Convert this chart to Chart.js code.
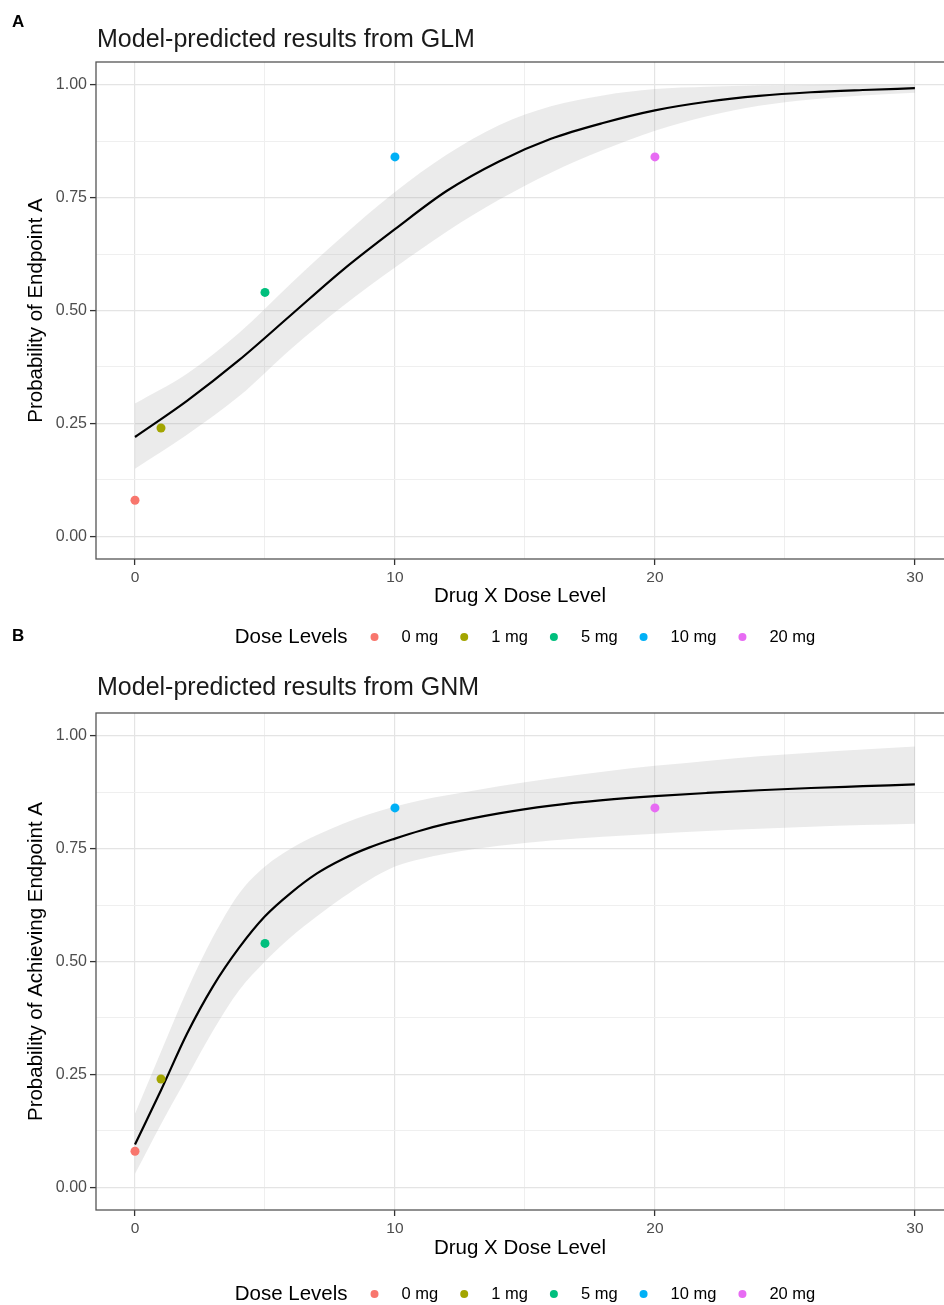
<!DOCTYPE html>
<html>
<head>
<meta charset="utf-8">
<title>Model-predicted results</title>
<script src="https://cdn.jsdelivr.net/npm/chart.js@4.4.1/dist/chart.umd.min.js"></script>
<style>
    body { margin: 0; background: #fff; }
    #wrap { position: relative; width: 944px; height: 1305px; overflow: hidden; }
    canvas { position: absolute; left: 0; }
    #chartA { top: 0; }
    #chartB { top: 625px; }
</style>
</head>
<body>
<div id="wrap">
    <canvas id="chartA" width="944" height="655"></canvas>
    <canvas id="chartB" width="944" height="680"></canvas>
</div>
<script>
// Observed dose groups (same in both panels)
const doseLabels = ['0 mg', '1 mg', '5 mg', '10 mg', '20 mg'];
const doseLevels = [0, 1, 5, 10, 20];
const observedProb = [0.08, 0.24, 0.54, 0.84, 0.84];
const doseColors = ['#F8766D', '#A3A500', '#00BF7D', '#00B0F6', '#E76BF3'];

// Panel A - GLM fit and ribbon
const glmDose = [0, 2, 4, 6, 8, 10, 12, 14, 16, 18, 20, 22, 24, 26, 28, 30];
const glmFit = [0.22, 0.30, 0.39, 0.49, 0.59, 0.68, 0.765, 0.83, 0.88, 0.915, 0.943, 0.962, 0.975, 0.983, 0.988, 0.992];
const glmUpper = [0.294, 0.36, 0.45, 0.56, 0.665, 0.762, 0.845, 0.91, 0.952, 0.976, 0.99, 0.995, 0.998, 0.999, 1.0, 1.0];
const glmLower = [0.15, 0.225, 0.31, 0.415, 0.51, 0.595, 0.675, 0.745, 0.805, 0.855, 0.898, 0.93, 0.953, 0.967, 0.976, 0.982];

// Panel B - GNM fit and ribbon
const gnmDose = [0, 1, 2, 3, 4, 5, 6, 7, 8, 9, 10, 11, 12, 14, 16, 18, 20, 22, 24, 26, 28, 30];
const gnmFit = [0.095, 0.215, 0.34, 0.445, 0.53, 0.60, 0.652, 0.695, 0.727, 0.752, 0.772, 0.79, 0.805, 0.828, 0.845, 0.857, 0.866, 0.873, 0.879, 0.884, 0.888, 0.892];
const gnmUpper = [0.163, 0.30, 0.436, 0.554, 0.65, 0.71, 0.75, 0.78, 0.805, 0.826, 0.843, 0.857, 0.868, 0.888, 0.905, 0.92, 0.933, 0.944, 0.954, 0.962, 0.969, 0.976];
const gnmLower = [0.03, 0.14, 0.244, 0.347, 0.436, 0.50, 0.554, 0.60, 0.642, 0.68, 0.71, 0.727, 0.739, 0.756, 0.768, 0.776, 0.783, 0.789, 0.794, 0.798, 0.802, 0.805];

// Axis ticks (major get labels, the rest are minor grid lines)
const xTicks = [0, 5, 10, 15, 20, 25, 30];
const yTicks = [0, 0.125, 0.25, 0.375, 0.5, 0.625, 0.75, 0.875, 1];

const FONT = '"Liberation Sans", Arial, Helvetica, sans-serif';

function isMajorX(v) { return v % 10 === 0; }
function isMajorY(v) { return Math.abs(v * 4 - Math.round(v * 4)) < 1e-6; }

function toXY(xs, ys) {
    return xs.map((x, i) => ({ x: x, y: ys[i] }));
}

// Draws panel letter, title, panel border and the dose legend
const panelDecor = {
    id: 'panelDecor',
    afterDraw(chart, args, opts) {
        const ctx = chart.ctx;
        const area = chart.chartArea;
        ctx.save();

        ctx.strokeStyle = '#555555';
        ctx.lineWidth = 1.3;
        ctx.strokeRect(area.left, area.top, area.right - area.left + 10, area.bottom - area.top);

        ctx.fillStyle = '#000';
        ctx.textBaseline = 'middle';
        ctx.textAlign = 'left';
        ctx.font = 'bold 17px ' + FONT;
        ctx.fillText(opts.letter, 12, opts.letterY);

        ctx.font = '25px ' + FONT;
        ctx.fillStyle = '#1a1a1a';
        ctx.fillText(opts.title, area.left + 1, opts.titleY);

        // legend
        const items = chart.data.datasets.filter(d => d.isDose);
        ctx.font = '20.5px ' + FONT;
        const titleW = ctx.measureText('Dose Levels').width;
        ctx.font = '16.5px ' + FONT;
        const widths = items.map(d => ctx.measureText(d.label).width);
        let total = titleW;
        widths.forEach(w => { total += 27 + 27 + w; });
        total -= 1 * (items.length - 1);
        let x = 525 - total / 2;
        const y = opts.legendY;

        ctx.fillStyle = '#000';
        ctx.font = '20.5px ' + FONT;
        ctx.fillText('Dose Levels', x, y);
        x += titleW;
        ctx.font = '16.5px ' + FONT;
        items.forEach((d, i) => {
            const cx = x + 27;
            ctx.beginPath();
            ctx.arc(cx, y, 4, 0, Math.PI * 2);
            ctx.fillStyle = d.backgroundColor;
            ctx.fill();
            ctx.fillStyle = '#000';
            ctx.fillText(d.label, cx + 27, y);
            x = cx + 27 + widths[i] - 1;
        });

        ctx.restore();
    }
};

function makePanel(canvasId, cfg) {
    const ctx = document.getElementById(canvasId).getContext('2d');
    const canvasH = ctx.canvas.height;

    const pointSets = doseLabels.map((label, i) => ({
        label: label,
        isDose: true,
        data: [{ x: doseLevels[i], y: observedProb[i] }],
        showLine: false,
        pointRadius: 4.5,
        pointBorderWidth: 0,
        backgroundColor: doseColors[i],
        borderColor: doseColors[i],
        order: 0
    }));

    return new Chart(ctx, {
        type: 'line',
        data: {
            datasets: [
                {
                    label: 'upper',
                    data: toXY(cfg.dose, cfg.upper),
                    borderWidth: 0,
                    pointRadius: 0,
                    backgroundColor: 'rgba(153, 153, 153, 0.2)',
                    fill: '+1',
                    cubicInterpolationMode: 'monotone',
                    order: 2
                },
                {
                    label: 'lower',
                    data: toXY(cfg.dose, cfg.lower),
                    borderWidth: 0,
                    pointRadius: 0,
                    fill: false,
                    cubicInterpolationMode: 'monotone',
                    order: 2
                },
                {
                    label: 'fit',
                    data: toXY(cfg.dose, cfg.fit),
                    borderColor: '#000000',
                    borderWidth: 2.2,
                    pointRadius: 0,
                    fill: false,
                    cubicInterpolationMode: 'monotone',
                    order: 1
                },
                ...pointSets
            ]
        },
        options: {
            responsive: false,
            animation: false,
            events: [],
            layout: { autoPadding: false, padding: { top: cfg.areaTop, right: 0, bottom: 0, left: 0 } },
            scales: {
                x: {
                    type: 'linear',
                    min: -1.5,
                    max: 31.12,
                    afterBuildTicks: s => { s.ticks = xTicks.map(v => ({ value: v })); },
                    afterFit: s => { s.height = canvasH - cfg.areaBottom; },
                    border: { display: false },
                    grid: {
                        color: c => isMajorX(c.tick.value) ? '#e4e4e4' : '#efefef',
                        lineWidth: c => isMajorX(c.tick.value) ? 1.2 : 1,
                        tickLength: 6,
                        tickWidth: 1.3,
                        tickColor: c => isMajorX(c.tick.value) ? '#333333' : 'rgba(0,0,0,0)'
                    },
                    ticks: {
                        autoSkip: false,
                        includeBounds: false,
                        maxRotation: 0,
                        padding: 3,
                        color: '#4d4d4d',
                        font: { size: 15.5, family: FONT },
                        callback: v => isMajorX(v) ? String(v) : ''
                    },
                    title: {
                        display: true,
                        text: 'Drug X Dose Level',
                        color: '#000',
                        font: { size: 20.5, family: FONT },
                        padding: { top: 0, bottom: cfg.xTitlePad }
                    }
                },
                y: {
                    type: 'linear',
                    min: -0.05,
                    max: 1.05,
                    afterBuildTicks: s => { s.ticks = yTicks.map(v => ({ value: v })); },
                    afterFit: s => { s.width = 96; },
                    border: { display: false },
                    grid: {
                        color: c => isMajorY(c.tick.value) ? '#e4e4e4' : '#efefef',
                        lineWidth: c => isMajorY(c.tick.value) ? 1.2 : 1,
                        tickLength: 6,
                        tickWidth: 1.3,
                        tickColor: c => isMajorY(c.tick.value) ? '#333333' : 'rgba(0,0,0,0)'
                    },
                    ticks: {
                        autoSkip: false,
                        includeBounds: false,
                        padding: 3,
                        color: '#4d4d4d',
                        font: { size: 16, family: FONT },
                        callback: v => isMajorY(v) ? v.toFixed(2) : ''
                    },
                    title: {
                        display: true,
                        text: cfg.yTitle,
                        color: '#000',
                        font: { size: 20.5, family: FONT },
                        padding: { top: 24, bottom: 0 }
                    }
                }
            },
            plugins: {
                legend: { display: false },
                tooltip: { enabled: false },
                panelDecor: {
                    letter: cfg.letter,
                    letterY: cfg.letterY,
                    title: cfg.title,
                    titleY: cfg.titleY,
                    legendY: cfg.legendY
                }
            }
        },
        plugins: [panelDecor]
    });
}

makePanel('chartA', {
    letter: 'A', letterY: 22,
    title: 'Model-predicted results from GLM', titleY: 40,
    yTitle: 'Probability of Endpoint A',
    areaTop: 62, areaBottom: 559, xTitlePad: 46, legendY: 637,
    dose: glmDose, fit: glmFit, upper: glmUpper, lower: glmLower
});

makePanel('chartB', {
    letter: 'B', letterY: 11,
    title: 'Model-predicted results from GNM', titleY: 63,
    yTitle: 'Probability of Achieving Endpoint A',
    areaTop: 88, areaBottom: 585, xTitlePad: 44, legendY: 669,
    dose: gnmDose, fit: gnmFit, upper: gnmUpper, lower: gnmLower
});
</script>
</body>
</html>
